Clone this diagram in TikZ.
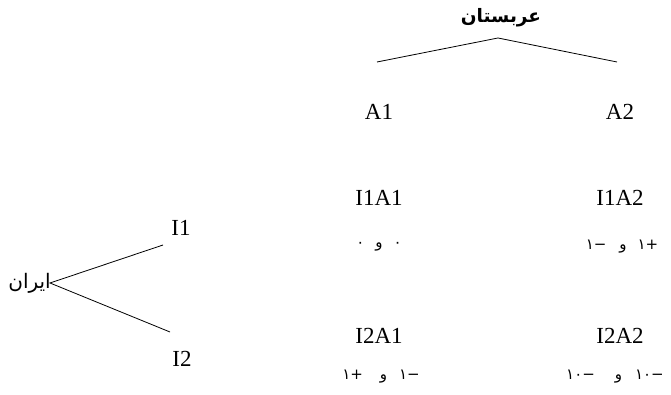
\documentclass[tikz,border=0pt]{standalone}
\usepackage{fontspec}
\setmainfont{Liberation Serif}
\newfontfamily\arabicfont[Script=Arabic]{DejaVu Sans}
\TeXXeTstate=1
\newcommand\gl[1]{\mbox{#1}}
\newcommand\gap{\hspace{11pt}}
\begin{document}
\begin{tikzpicture}[x=1pt,y=1pt,
  lbl/.style={inner sep=0pt, font=\fontsize{23}{26}\selectfont},
  ar/.style={inner sep=0pt, font=\fontsize{20}{22}\arabicfont},
  pay/.style={inner sep=0pt, font=\fontsize{15}{17}\arabicfont},
  edge/.style={draw=black, line width=0.8pt}]
\useasboundingbox (0,0) rectangle (671,395);
% Arab player
\node[ar, font=\fontsize{18.5}{20}\arabicfont\bfseries] (arab) at (501,377) {\beginR عربستان\endR};
\coordinate (aroot) at (498,357);
\coordinate (aleft) at (377,333);
\coordinate (aright) at (617,333);
\draw[edge] (aleft) -- (aroot) -- (aright);
\node[lbl] (A1) at (379,283) {A1};
\node[lbl] (A2) at (620,283) {A2};
% outcomes
\node[lbl] (I1A1) at (379,197) {I1A1};
\node[lbl] (I1A2) at (620,197) {I1A2};
\node[pay] (p11) at (379,148) {\gl{٠}\gap\gl{و}\gap\gl{٠}};
\node[pay] (p12) at (622,148) {\gl{١}\gl{−}\hspace{13pt}\gl{و}\gap\gl{١}\gl{+}};
\node[lbl] (I2A1) at (379,59) {I2A1};
\node[lbl] (I2A2) at (620,59) {I2A2};
\node[pay] (p21) at (381,18) {\gl{١}\gl{+}\hspace{17pt}\gl{و}\hspace{12pt}\gl{١}\gl{−}};
\node[pay] (p22) at (615,18) {\gl{١}\gl{٠}\gl{−}\hspace{20pt}\gl{و}\hspace{13pt}\gl{١}\gl{٠}\gl{−}};
% Iran player
\node[ar, anchor=east] (iran) at (51,112) {\beginR ایران\endR};
\coordinate (iroot) at (50,112);
\coordinate (iup) at (163,150);
\coordinate (idown) at (170,63);
\draw[edge] (iup) -- (iroot) -- (idown);
\node[lbl] (I1) at (181,167) {I1};
\node[lbl] (I2) at (182,36) {I2};
\end{tikzpicture}
\end{document}
